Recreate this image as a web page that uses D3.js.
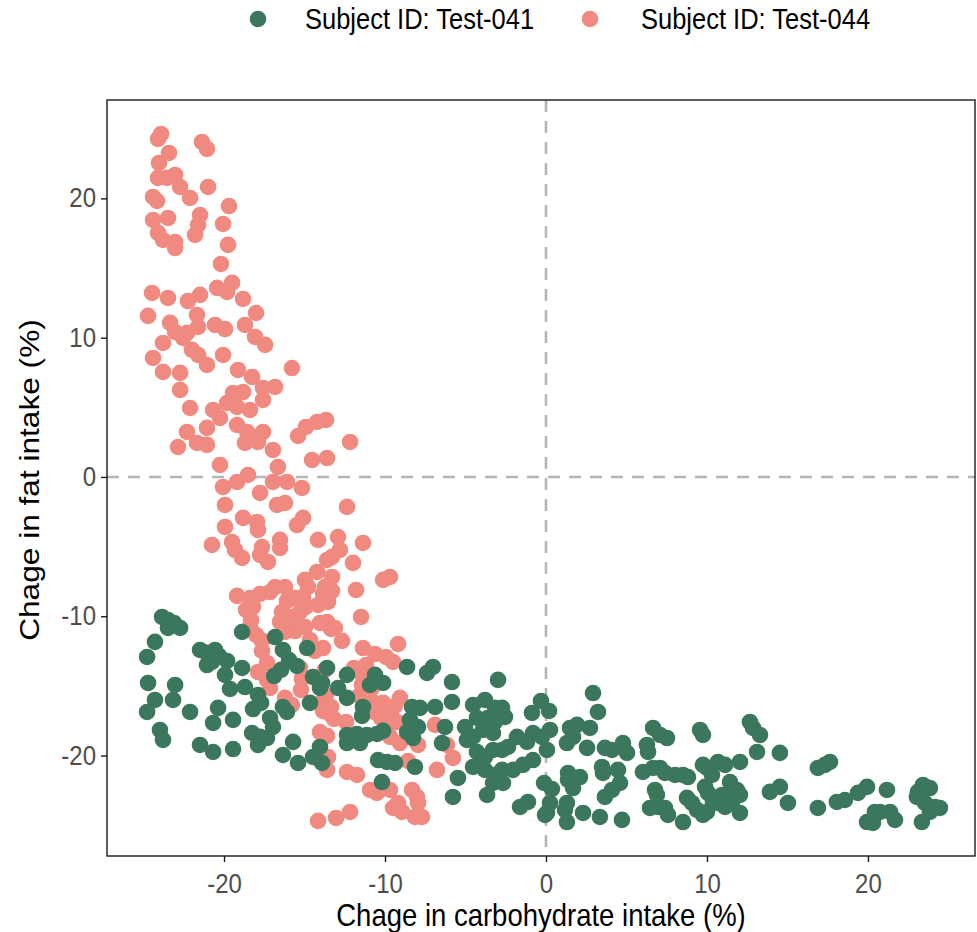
<!DOCTYPE html>
<html>
<head>
<meta charset="utf-8">
<script src="https://cdn.jsdelivr.net/npm/d3@7"></script>
<style>
  body { margin: 0; background: #fff; }
  svg { display: block; }
  text { font-family: "Liberation Sans", Arial, sans-serif; }
</style>
</head>
<body>
<svg id="chart" width="977" height="932"></svg>
<script>
// Series names and colours
const seriesNames = ["Subject ID: Test-041", "Subject ID: Test-044"];
const seriesColors = ["#3b775d", "#f08a80"];
const xTicks = [-20, -10, 0, 10, 20];
const yTicks = [-20, -10, 0, 10, 20];
const xTitle = "Chage in carbohydrate intake (%)";
const yTitle = "Chage in fat intake (%)";

// [carbohydrate change, fat change] per observation, Test-044
const test044 = [
  [-23.91,24.62],[-24.10,24.26],[-21.37,24.05],[-21.06,23.55],[-23.42,23.26],[-24.04,22.54],[-24.10,21.47],[-23.54,21.47],
  [-23.04,21.68],[-22.73,20.82],[-20.99,20.82],[-24.41,20.10],[-24.16,19.81],[-22.11,20.03],[-19.69,19.45],[-24.41,18.45],
  [-23.48,18.59],[-21.49,18.81],[-21.61,18.09],[-20.06,18.16],[-24.10,17.52],[-23.79,17.01],[-23.04,16.87],[-23.04,16.44],
  [-21.80,17.37],[-19.75,16.66],[-20.19,15.29],[-20.43,13.57],[-19.50,13.93],[-19.81,13.28],[-18.82,12.78],[-24.47,13.21],
  [-23.48,12.85],[-22.24,12.63],[-21.49,13.07],
  [-24.72,11.56],[-23.35,11.06],[-23.04,10.41],[-21.68,11.63],[-21.61,10.77],[-20.56,10.91],[-19.94,10.62],[-18.01,11.77],
  [-18.70,10.91],[-22.30,10.34],[-22.55,9.98],[-23.79,9.62],[-18.07,10.05],[-17.45,9.48],[-21.99,9.12],[-21.61,8.76],
  [-21.06,8.04],[-20.06,8.76],[-24.41,8.54],[-23.79,7.54],[-22.73,7.47],[-19.13,7.68],[-18.26,7.18],[-15.78,7.82],
  [-22.73,6.25],[-19.44,6.03],[-18.82,6.10],[-17.58,6.39],[-16.83,6.46],[-22.11,4.95],[-20.68,4.81],[-19.81,5.31],
  [-19.19,5.03],[-18.39,4.81],[-17.58,5.53],[-21.06,3.52],[-20.25,4.24],[-19.19,3.73],[-18.57,3.23],[-17.58,3.23],
  [-22.30,3.23],[-22.86,2.15],[-21.68,2.44],[-21.06,2.30],[-18.70,2.44],[-17.89,2.51],[-16.96,1.94],[-15.40,2.94],
  [-14.91,3.59],[-14.22,3.95],[-13.66,4.09],[-12.17,2.51],[-14.53,1.22],[-13.60,1.36],[-20.25,0.86],[-16.65,0.72],
  [-18.51,0.14],[-19.19,-0.36],[-20.06,-0.72],[-16.96,-0.36],[-16.09,-0.36],[-15.16,-0.79],[-17.76,-1.15],[-19.94,-2.01],
  [-16.71,-2.01],[-16.21,-1.87],[-12.36,-2.15],[-18.82,-2.94],[-17.95,-3.23],[-17.89,-3.80],[-19.94,-3.59],[-15.47,-3.45],
  [-15.09,-2.94],[-20.75,-4.88],[-19.50,-4.67],[-19.32,-5.24],[-18.88,-5.81],[-17.64,-5.03],[-17.76,-5.60],[-17.27,-6.10],
  [-16.52,-4.52],[-16.52,-5.10],[-14.16,-4.52],[-12.92,-4.31],[-12.80,-5.24],[-13.29,-5.74],[-11.37,-4.74],[-13.60,-5.96],
  [-11.99,-6.17],[-14.22,-6.82],[-14.97,-7.39],[-14.78,-7.90],[-13.29,-7.18],[-13.73,-7.90],[-13.29,-8.18],[-11.80,-8.11],
  [-10.12,-7.39],[-9.69,-7.18],[-16.83,-7.90],[-16.21,-7.90],
  [-19.19,-8.54],[-18.39,-8.69],[-17.76,-8.40],[-17.14,-8.26],[-18.63,-9.55],[-18.20,-9.33],[-18.32,-10.27],[-16.09,-8.90],
  [-15.59,-8.69],[-15.09,-8.61],[-16.40,-9.69],[-15.78,-10.05],[-15.28,-9.69],[-14.91,-9.33],[-14.16,-9.19],[-13.85,-8.40],
  [-13.54,-8.97],[-11.49,-10.05],[-16.52,-10.41],[-16.02,-10.55],[-15.47,-10.62],[-14.97,-10.77],[-14.04,-10.48],[-13.60,-10.41],
  [-13.35,-10.91],[-18.39,-10.77],[-18.01,-11.34],[-17.64,-11.77],[-16.21,-11.13],[-15.59,-11.06],[-14.66,-11.70],[-14.35,-12.49],
  [-13.11,-10.84],[-12.67,-11.77],[-13.85,-12.28],[-11.37,-12.28],[-10.62,-12.71],[-9.94,-12.92],[-9.19,-11.99],[-9.50,-13.28],
  [-17.64,-12.49],[-17.33,-13.35],[-17.89,-14.00],[-17.33,-14.57],[-17.14,-15.15],[-15.28,-13.71],[-15.16,-14.50],[-15.22,-15.29],
  [-14.47,-14.36],[-13.73,-13.85],[-14.04,-15.00],[-13.66,-15.65],[-13.91,-16.15],[-13.35,-16.51],[-13.42,-17.01],[-16.21,-15.86],
  [-15.78,-16.37],[-13.85,-16.80],[-13.17,-17.37],[-12.42,-17.59],[-11.93,-13.71],[-11.18,-13.50],[-11.37,-14.29],[-11.43,-14.93],
  [-10.81,-15.15],[-11.61,-15.72],[-10.75,-16.15],[-10.12,-16.22],[-10.68,-16.87],[-10.25,-17.30],[-9.63,-16.94],[-9.25,-17.59],
  [-9.81,-17.95],[-9.69,-18.66],[-9.07,-15.86],[-9.38,-16.44],[-14.04,-18.31],[-13.60,-18.59],[-14.04,-19.38],[-13.54,-20.10],
  [-13.60,-21.03],[-8.45,-18.66],[-9.07,-19.10],[-7.95,-19.24],[-8.57,-20.39],[-6.89,-17.80],[-6.15,-19.24],[-5.78,-20.17],
  [-12.36,-21.18],[-11.74,-21.39],[-6.77,-21.03],[-10.93,-22.47],[-10.50,-22.68],[-9.69,-22.47],[-9.19,-23.40],[-8.32,-22.47],
  [-9.50,-23.76],[-8.94,-24.05],[-8.01,-22.97],[-7.95,-23.40],[-8.14,-24.41],[-7.70,-24.41],[-14.16,-24.69],[-13.04,-24.48],
  [-12.17,-24.05]
];

// [carbohydrate change, fat change] per observation, Test-041
const test041 = [
  [-23.85,-10.05],[-23.48,-10.27],[-23.11,-10.48],[-22.73,-10.84],[-23.48,-10.84],[-24.29,-11.84],[-24.78,-12.92],[-18.88,-11.13],
  [-16.83,-11.49],[-21.49,-12.42],[-21.06,-12.63],[-20.56,-12.42],[-20.31,-12.85],[-20.75,-13.28],[-21.06,-13.50],[-19.81,-13.21],
  [-16.34,-12.42],[-15.96,-13.14],[-15.47,-13.57],[-14.84,-12.28],[-18.88,-13.71],[-19.94,-14.21],[-19.63,-15.22],[-18.70,-15.08],
  [-16.89,-14.29],[-16.46,-13.85],[-14.47,-14.36],[-14.04,-15.15],[-24.72,-14.79],[-23.04,-14.93],[-24.29,-16.01],[-24.78,-16.87],
  [-23.17,-16.01],[-22.11,-16.87],[-20.37,-16.58],[-20.68,-17.66],[-19.44,-17.44],[-17.89,-15.65],[-17.70,-16.22],[-18.20,-16.66],
  [-17.14,-17.30],[-16.96,-17.95],[-16.34,-16.51],[-16.09,-16.87],[-14.66,-16.22],[-23.98,-18.16],[-23.79,-18.88],[-18.26,-18.38],
  [-17.76,-18.66],[-17.89,-19.24],[-17.33,-18.74],[-21.49,-19.24],[-20.68,-19.74],[-19.44,-19.53],[-15.71,-19.02],[-16.34,-19.96],
  [-15.40,-20.53],[-14.47,-20.10],[-14.04,-19.38],[-13.91,-20.53],
  [-13.60,-13.71],[-13.91,-14.79],[-12.36,-14.21],[-12.92,-15.15],[-12.36,-15.86],[-10.93,-14.93],[-10.62,-14.21],[-10.12,-14.79],
  [-8.63,-13.64],[-7.39,-14.07],[-7.02,-13.64],[-11.37,-16.51],[-11.43,-17.16],[-8.32,-16.51],[-7.83,-16.58],[-6.89,-16.51],
  [-8.45,-17.44],[-7.95,-17.95],[-8.63,-18.31],[-8.26,-18.74],[-5.84,-14.72],[-5.84,-16.15],[-6.27,-17.95],[-12.36,-18.52],
  [-11.74,-18.45],[-11.12,-18.52],[-10.50,-18.45],[-10.12,-18.23],[-11.55,-19.10],[-12.36,-19.10],[-6.46,-19.10],[-10.43,-20.32],
  [-9.88,-20.46],[-9.38,-20.53],[-8.14,-20.82],[-10.19,-21.90],[-5.47,-21.61],[-5.78,-22.97],[-2.98,-14.57],[-4.53,-16.37],
  [-3.79,-16.01],[-3.17,-16.58],[-2.73,-16.58],[-4.29,-17.30],[-3.60,-17.30],[-3.17,-17.59],[-2.55,-17.23],[-5.03,-17.95],
  [-4.91,-18.88],[-4.53,-18.66],[-3.91,-18.16],[-3.29,-18.38],[-4.29,-19.74],[-3.79,-20.10],[-3.29,-19.60],[-2.73,-19.60],
  [-4.53,-20.82],[-3.79,-21.03],[-3.17,-21.39],[-2.73,-21.03],[-3.29,-21.97],[-2.67,-21.97],[-3.66,-22.83],[-2.05,-21.03],
  [-1.43,-20.67],[-0.81,-20.32],[-2.36,-19.38],[-1.80,-18.66],[-1.18,-19.02],[-0.81,-18.38],[-0.87,-16.94],[-0.31,-16.08],
  [0.19,-16.80],[-1.61,-23.69],[-1.12,-23.33],[-0.06,-24.26],[-0.12,-21.97],[0.37,-22.40],
  [2.92,-15.51],[3.23,-16.87],[0.25,-18.16],[-0.25,-18.66],[1.49,-18.02],[1.93,-17.80],[2.73,-18.02],[1.68,-18.66],
  [1.30,-19.10],[2.55,-19.45],[3.66,-19.45],[4.10,-19.60],[4.78,-19.10],[5.03,-19.81],[0.06,-19.60],[6.65,-18.02],
  [7.08,-18.52],[7.52,-18.74],[9.57,-18.16],[9.75,-18.52],[12.67,-17.59],[12.86,-18.02],[13.29,-18.52],[6.27,-19.24],
  [6.34,-19.74],[13.11,-19.74],[1.37,-21.25],[2.11,-21.54],[3.48,-20.82],[3.54,-21.25],[4.47,-21.03],[4.60,-21.97],
  [4.10,-22.47],[3.66,-22.97],[6.02,-21.18],[6.65,-20.89],[7.08,-20.89],[7.39,-21.25],[8.01,-21.39],[8.51,-21.39],
  [8.82,-21.54],[9.75,-20.67],[10.00,-20.89],[10.68,-20.46],[11.12,-20.67],[12.05,-20.46],[10.31,-21.39],[0.25,-23.40],
  [0.06,-24.12],[1.37,-21.75],[1.68,-22.33],[1.30,-23.40],[1.18,-23.90],[1.30,-24.77],[2.30,-24.12],[3.35,-24.41],
  [4.72,-24.62],[6.77,-22.47],[6.89,-22.83],[6.46,-23.76],[6.96,-23.69],[7.39,-23.76],[7.58,-24.26],[8.51,-24.77],
  [8.76,-23.04],[9.07,-23.40],[9.38,-23.90],[9.75,-24.26],[9.88,-22.25],[10.06,-22.68],[10.37,-23.33],[10.93,-22.83],
  [10.68,-23.40],[11.12,-23.69],[10.00,-24.05],[11.43,-21.90],[11.86,-22.47],[12.05,-22.83],[11.55,-23.40],[12.05,-24.12],
  [13.91,-22.61],[14.53,-19.81],[16.89,-20.89],[17.33,-20.67],[17.64,-20.46],[14.53,-22.25],[15.03,-23.40],[16.89,-23.76],
  [18.07,-23.33],[18.57,-23.19],[19.38,-22.68],[19.94,-22.25],[21.18,-22.47],[20.43,-24.05],[19.94,-24.77],[20.31,-24.84],
  [20.75,-24.05],[21.37,-24.05],[21.68,-24.62],[23.11,-22.61],[23.42,-22.11],[23.85,-22.33],[23.04,-22.97],[23.54,-23.40],
  [24.16,-23.69],[24.47,-23.76],[23.85,-24.05],[23.35,-24.77]
];

const panel = { left: 107, right: 975, top: 100, bottom: 856 };
const textStretch = 1.15;   // glyphs are drawn slightly taller than wide

const svg = d3.select("#chart");

const x = d3.scaleLinear().domain([-27.27, 26.65]).range([panel.left, panel.right]);
const y = d3.scaleLinear().domain([-27.21, 27.06]).range([panel.bottom, panel.top]);

// Reference lines at zero
const refColor = "#b5b5b5";
svg.append("line")
  .attr("x1", x(0)).attr("x2", x(0)).attr("y1", panel.top).attr("y2", panel.bottom)
  .attr("stroke", refColor).attr("stroke-width", 2.6).attr("stroke-dasharray", "12,9");
svg.append("line")
  .attr("x1", panel.left).attr("x2", panel.right).attr("y1", y(0)).attr("y2", y(0))
  .attr("stroke", refColor).attr("stroke-width", 2.6).attr("stroke-dasharray", "12,9");

// Points: Test-044 underneath, Test-041 on top
const pointR = 8.3;
[[test044, seriesColors[1]], [test041, seriesColors[0]]].forEach(([rows, color]) => {
  svg.append("g").selectAll("circle").data(rows).join("circle")
    .attr("cx", d => x(d[0])).attr("cy", d => y(d[1]))
    .attr("r", pointR).attr("fill", color);
});

// Panel border
svg.append("rect")
  .attr("x", panel.left).attr("y", panel.top)
  .attr("width", panel.right - panel.left).attr("height", panel.bottom - panel.top)
  .attr("fill", "none").attr("stroke", "#1a1a1a").attr("stroke-width", 1.4);

// Axes (plain hyphen for negative numbers)
const tickFmt = d => String(d);
const xAxis = d3.axisBottom(x).tickValues(xTicks).tickSize(6).tickPadding(0).tickFormat(tickFmt);
const yAxis = d3.axisLeft(y).tickValues(yTicks).tickSize(6).tickPadding(0).tickFormat(tickFmt);

const gx = svg.append("g").attr("transform", `translate(0,${panel.bottom})`).call(xAxis);
const gy = svg.append("g").attr("transform", `translate(${panel.left},0)`).call(yAxis);
[gx, gy].forEach(g => {
  g.select(".domain").remove();
  g.selectAll(".tick line").attr("stroke", "#1a1a1a").attr("stroke-width", 1.4);
  g.selectAll(".tick text").attr("fill", "#4d4d4d").style("font-size", "24px")
    .style("font-family", '"Liberation Sans", Arial, sans-serif');
});
gx.selectAll(".tick text")
  .attr("y", null).attr("dy", null)
  .attr("transform", `translate(0,37) scale(1,${textStretch})`)
  .attr("text-anchor", "middle");
gy.selectAll(".tick text")
  .attr("x", null).attr("dy", null)
  .attr("transform", `translate(-11,8.5) scale(1,${textStretch})`)
  .attr("text-anchor", "end");

// Axis titles
svg.append("text")
  .attr("transform", `translate(${(panel.left + panel.right) / 2},926) scale(1,${textStretch})`)
  .attr("text-anchor", "middle").attr("fill", "#000").style("font-size", "27.5px")
  .text(xTitle);
svg.append("text")
  .attr("transform", `translate(39,${(panel.top + panel.bottom) / 2 + 2}) scale(1,${textStretch}) rotate(-90)`)
  .attr("text-anchor", "middle").attr("fill", "#000").style("font-size", "27.5px")
  .text(yTitle);

// Legend
const legendItems = [
  { name: seriesNames[0], color: seriesColors[0], dot: 258, text: 305 },
  { name: seriesNames[1], color: seriesColors[1], dot: 590, text: 641 }
];
const lg = svg.append("g");
legendItems.forEach(it => {
  lg.append("circle").attr("cx", it.dot).attr("cy", 19).attr("r", 8.3).attr("fill", it.color);
  lg.append("text")
    .attr("transform", `translate(${it.text},29) scale(1,${textStretch})`)
    .attr("fill", "#000").style("font-size", "25.5px").text(it.name);
});
</script>
</body>
</html>
